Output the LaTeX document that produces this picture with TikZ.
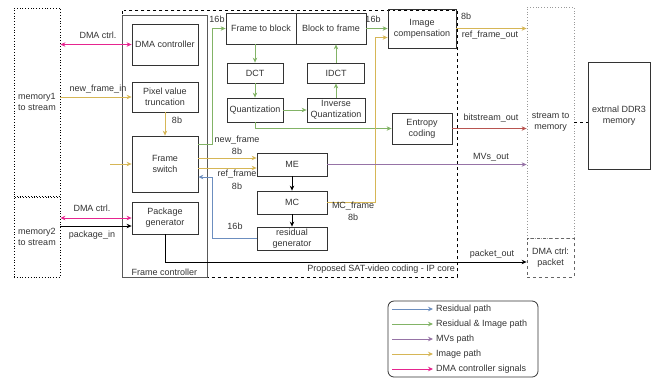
\documentclass[tikz,border=0pt]{standalone}
\usepackage{fontspec}
\setmainfont{Liberation Sans}
\usetikzlibrary{arrows.meta}
\definecolor{respath}{HTML}{6C8EBF}
\definecolor{irpath}{HTML}{82B366}
\definecolor{mvpath}{HTML}{9673A6}
\definecolor{imgpath}{HTML}{D6B656}
\definecolor{dmapath}{HTML}{E6248F}
\definecolor{bitpath}{HTML}{B85450}
\definecolor{boxline}{HTML}{333333}
\begin{document}
\begin{tikzpicture}[x=1bp,y=-1bp,>={Stealth[length=5bp,width=4.5bp]},
  every node/.style={font=\fontsize{9bp}{11bp}\selectfont,text=boxline},
  sz/.style 2 args={minimum width=#1bp,minimum height=#2bp},
  blk/.style={draw=boxline,line width=\satlw,align=center,inner sep=0pt},
  memblk/.style={draw=black,dotted,line width=\satlw,align=center,inner sep=0pt},
  lbl/.style={inner sep=0pt},
  resln/.style={color=respath},
  irln/.style={color=irpath},
  mvln/.style={color=mvpath},
  imgln/.style={color=imgpath},
  dmaln/.style={color=dmapath},
  bitln/.style={color=bitpath}]
\ifx\satlw\undefined\newdimen\satlw\fi
\global\def\satdraw{\draw[line width=\satlw]}
\satlw=0.8bp
\useasboundingbox (0,0) rectangle (656,378);
% containers
\node[draw=black,dashed,line width=\satlw,sz={335}{267}] (ipcore) at (289.5,143.5) {};
\node[draw=black!65,line width=\satlw,sz={85}{262}] (fctrl) at (164.5,146) {};
\node[lbl] (fctrltxt) at (164.5,272) {Frame controller};
\node[lbl,anchor=east] (ipcoretxt) at (455,269) {Proposed SAT-video coding - IP core};
\node[memblk,sz={46}{188}] (mem1) at (37,102) {memory1\\to stream};
\node[memblk,sz={46}{80}] (mem2) at (37,237) {memory2\\to stream};
% frame controller
\node[blk,sz={66}{41}] (dmac) at (165,44.5) {DMA controller};
\node[blk,sz={66}{30}] (trunc) at (165,97) {Pixel value\\truncation};
\node[blk,sz={66}{56}] (fsw) at (165,164) {Frame\\switch};
\node[blk,sz={66}{32}] (pkg) at (165,218) {Package\\generator};
% coding core
\node[blk,sz={70}{31}] (f2b) at (261,28.5) {Frame to block};
\node[blk,sz={70}{31}] (b2f) at (331,28.5) {Block to frame};
\node[blk,sz={68}{39}] (imgc) at (422,28.5) {Image\\compensation};
\node[blk,sz={56}{20}] (dct) at (255,73) {DCT};
\node[blk,sz={57}{20}] (idct) at (336,73) {IDCT};
\node[blk,sz={56}{24}] (quant) at (255,110) {Quantization};
\node[blk,sz={58}{24}] (iquant) at (336,110) {Inverse\\Quantization};
\node[blk,sz={60}{31}] (ent) at (422,128.5) {Entropy\\coding};
\node[blk,sz={70}{23}] (me) at (292,164.5) {ME};
\node[blk,sz={70}{23}] (mc) at (292,202.5) {MC};
\node[blk,sz={70}{23}] (resg) at (292,238.5) {residual\\generator};
% memory side
\node[draw=black!40,dotted,line width=\satlw,align=center,sz={47}{231}] (s2m) at (550.5,122.5) {stream to\\memory};
\node[draw=black!60,dashed,line width=\satlw,align=center,sz={47}{39}] (dmapkt) at (550.5,257.5) {DMA ctrl:\\packet};
\node[blk,sz={62}{107}] (ddr) at (619,115.5) {extrnal DDR3\\memory};
% inputs
\satdraw[dmaln,<->] (dmac.west -| mem1.east)
 --(dmac.west);
\node[lbl] (dma1txt) at (98,35) {DMA ctrl.};
\satdraw[imgln,->] (trunc.west -| mem1.east)
 --(trunc.west);
\node[lbl] (nfitxt) at (98,89) {new\_frame\_in};
\satdraw[imgln,->] (trunc.south)
 --(fsw.north);
\node[lbl] (b8a) at (177,120) {8b};
\coordinate (fswin) at (110,164);
\satdraw[imgln,->] (fswin)
 --(fsw.west);
\satdraw[dmaln,<->] (pkg.west -| mem2.east)
 --(pkg.west);
\node[lbl] (dma2txt) at (92,208) {DMA ctrl.};
\coordinate (pkgin) at ([yshift=-8bp]pkg.west);
\satdraw[->] (pkgin -| mem2.east)
 --(pkgin);
\node[lbl] (pkgintxt) at (92,235) {package\_in};
\coordinate (pktin) at ([yshift=-4.5bp]dmapkt.west);
\satdraw[->] (pkg.south)
 |-(pktin);
\node[lbl] (pkttxt) at (492,254) {packet\_out};
% frame switch to core
\coordinate (fswout) at ([yshift=-9bp]fsw.north east);
\satdraw[irln,->] (fswout)
 --++(14,0)
 |-(f2b.west);
\node[lbl] (b16a) at (217,19) {16b};
\coordinate (menew) at ([yshift=6.5bp]me.west);
\coordinate (meref) at ([yshift=-3.5bp]me.west);
\satdraw[imgln,->] (menew -| fsw.east)
 --(menew);
\satdraw[imgln,->] (meref -| fsw.east)
 --(meref);
\node[lbl] (nftxt) at (237,140) {new\_frame};
\node[lbl] (b8b) at (237,151) {8b};
\node[lbl] (rftxt) at (237,174) {ref\_frame};
\node[lbl] (b8c) at (237,186) {8b};
\coordinate (fswres) at ([yshift=-13bp]fsw.east);
\satdraw[resln,->] (resg.west)
 -|([xshift=14bp]fswres)
 --(fswres);
\node[lbl] (b16b) at (235,226) {16b};
% transform loop
\satdraw[irln,->] (dct.north |- f2b.south)
 --(dct.north);
\satdraw[irln,->] (dct.south)
 --(quant.north);
\satdraw[irln,->] (quant.east)
 --(iquant.west);
\satdraw[irln,->] (iquant.north)
 --(idct.south);
\satdraw[irln,->] (idct.north)
 --(idct.north |- b2f.south);
\satdraw[irln,->] (b2f.east)
 --(b2f.east -| imgc.west);
\node[lbl] (b16c) at (373,19) {16b};
\satdraw[irln,->] (quant.south)
 |-(ent.west);
\coordinate (imgcmc) at ([yshift=-9bp]imgc.west);
\satdraw[imgln,->] (mc.east)
 --++(48,0)
 |-(imgcmc);
\node[lbl] (mcftxt) at (353,206.5) {MC\_frame};
\node[lbl] (b8d) at (353,217.5) {8b};
\satdraw[->] (me.south)
 --(mc.north);
\satdraw[->] (mc.south)
 --(resg.north);
% outputs
\satdraw[imgln,->] (imgc.east)
 --(imgc.east -| s2m.west);
\node[lbl] (b8e) at (466,16) {8b};
\node[lbl] (rfotxt) at (490,35) {ref\_frame\_out};
\satdraw[bitln,->] (ent.east)
 --(ent.east -| s2m.west);
\node[lbl] (bsotxt) at (491,118) {bitstream\_out};
\satdraw[mvln,->] (me.east)
 --(me.east -| s2m.west);
\node[lbl] (mvotxt) at (491,157) {MVs\_out};
\satdraw[dashed] (s2m.east)
 --(s2m.east -| ddr.west);
% legend
\node[draw=boxline,rounded corners=6bp,line width=\satlw,sz={150}{76}] (legend) at (463,339) {};
\foreach \pth/\txt [count=\i] in {resln/Residual path,irln/Residual \& Image path,mvln/MVs path,imgln/Image path,dmaln/DMA controller signals}{
  \coordinate (lgs\i) at (392,{294+15*\i});
  \node[anchor=west,inner sep=3bp] (lgt\i) at (433,{294+15*\i}) {\txt};
  \satdraw[\pth,->] (lgs\i)
   --(lgt\i.west);
}
\end{tikzpicture}
\end{document}
